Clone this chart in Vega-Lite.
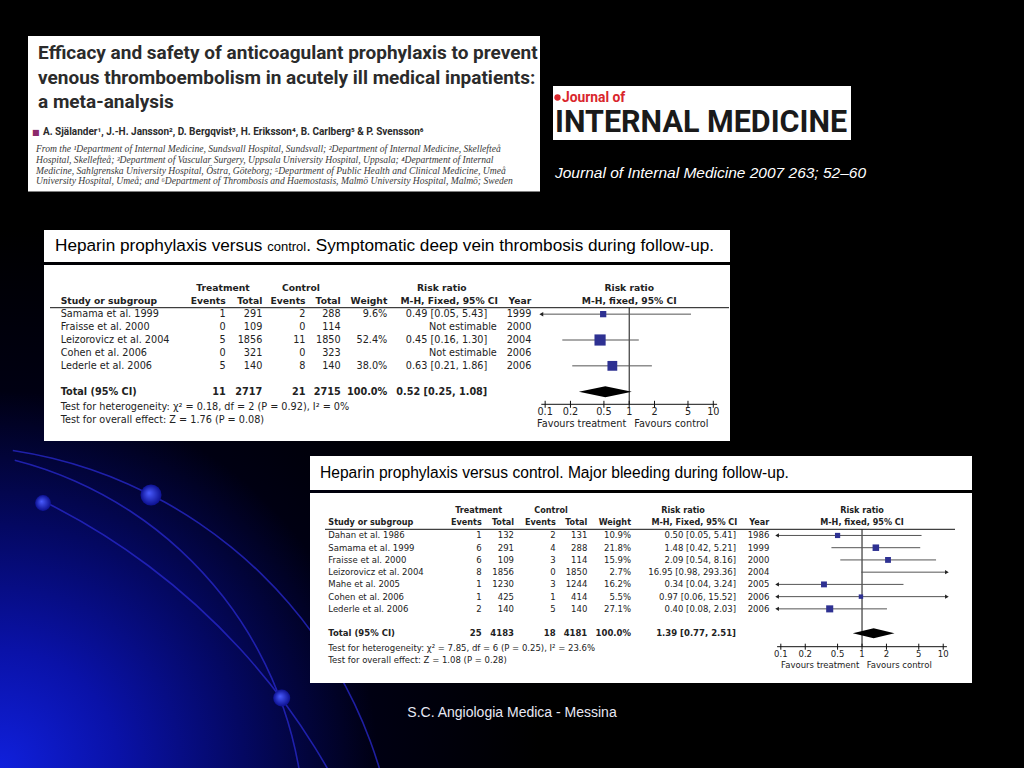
{
"$schema":"https://vega.github.io/schema/vega-lite/v6.json",
"width":1024,"height":768,"padding":0,"autosize":{"type":"none"},
"background":"#000000",
"config":{"view":{"stroke":null},"text":{"font":"DejaVu Sans","baseline":"middle","color":"#222222","fontSize":9.7},"rule":{"color":"#111111","strokeWidth":1}},
"datasets":{
 "one":[{}],
 "ticks":[{"v":0.1},{"v":0.2},{"v":0.5},{"v":1},{"v":2},{"v":5},{"v":10}],
 "t1":[
  {"study":"Samama et al. 1999","te":1,"tt":291,"ce":2,"ct":288,"w":0.096,"ci":"0.49 [0.05, 5.43]","rr":0.49,"lo":0.05,"hi":5.43,"year":1999},
  {"study":"Fraisse et al. 2000","te":0,"tt":109,"ce":0,"ct":114,"w":null,"ci":"Not estimable","rr":null,"lo":null,"hi":null,"year":2000},
  {"study":"Leizorovicz et al. 2004","te":5,"tt":1856,"ce":11,"ct":1850,"w":0.524,"ci":"0.45 [0.16, 1.30]","rr":0.45,"lo":0.16,"hi":1.3,"year":2004},
  {"study":"Cohen et al. 2006","te":0,"tt":321,"ce":0,"ct":323,"w":null,"ci":"Not estimable","rr":null,"lo":null,"hi":null,"year":2006},
  {"study":"Lederle et al. 2006","te":5,"tt":140,"ce":8,"ct":140,"w":0.38,"ci":"0.63 [0.21, 1.86]","rr":0.63,"lo":0.21,"hi":1.86,"year":2006},
  {"study":"Total (95% CI)","te":11,"tt":2717,"ce":21,"ct":2715,"w":1,"ci":"0.52 [0.25, 1.08]","rr":0.52,"lo":0.25,"hi":1.08,"year":null}
 ],
 "t2":[
  {"study":"Dahan et al. 1986","te":1,"tt":132,"ce":2,"ct":131,"w":0.109,"ci":"0.50 [0.05, 5.41]","rr":0.5,"lo":0.05,"hi":5.41,"year":1986},
  {"study":"Samama et al. 1999","te":6,"tt":291,"ce":4,"ct":288,"w":0.218,"ci":"1.48 [0.42, 5.21]","rr":1.48,"lo":0.42,"hi":5.21,"year":1999},
  {"study":"Fraisse et al. 2000","te":6,"tt":109,"ce":3,"ct":114,"w":0.159,"ci":"2.09 [0.54, 8.16]","rr":2.09,"lo":0.54,"hi":8.16,"year":2000},
  {"study":"Leizorovicz et al. 2004","te":8,"tt":1856,"ce":0,"ct":1850,"w":0.027,"ci":"16.95 [0.98, 293.36]","rr":16.95,"lo":0.98,"hi":293.36,"year":2004},
  {"study":"Mahe et al. 2005","te":1,"tt":1230,"ce":3,"ct":1244,"w":0.162,"ci":"0.34 [0.04, 3.24]","rr":0.34,"lo":0.04,"hi":3.24,"year":2005},
  {"study":"Cohen et al. 2006","te":1,"tt":425,"ce":1,"ct":414,"w":0.055,"ci":"0.97 [0.06, 15.52]","rr":0.97,"lo":0.06,"hi":15.52,"year":2006},
  {"study":"Lederle et al. 2006","te":2,"tt":140,"ce":5,"ct":140,"w":0.271,"ci":"0.40 [0.08, 2.03]","rr":0.4,"lo":0.08,"hi":2.03,"year":2006},
  {"study":"Total (95% CI)","te":25,"tt":4183,"ce":18,"ct":4181,"w":1,"ci":"1.39 [0.77, 2.51]","rr":1.39,"lo":0.77,"hi":2.51,"year":null}
 ]
},
"resolve":{"scale":{"x":"independent","y":"independent","size":"independent"}},
"layer":[
 {"data":{"name":"one"},"mark":{"type":"rect","fill":{"gradient":"radial","x1":0,"y1":1,"r1":0,"x2":0,"y2":1,"r2":1,"stops":[{"offset":0,"color":"#1020dc"},{"offset":0.22,"color":"#0a12a8"},{"offset":0.45,"color":"#040862"},{"offset":0.7,"color":"#000012"},{"offset":1,"color":"#000000"}]}},"encoding":{"x":{"value":0},"x2":{"value":540},"y":{"value":230},"y2":{"value":768}}},
 {"data":{"name":"one"},"mark":{"type":"arc","radius":454.4,"radius2":452.8,"theta":0.15,"theta2":1.5708,"fill":"#2a2ad0","opacity":0.75},"encoding":{"x":{"value":-55},"y":{"value":899}}},
 {"data":{"name":"one"},"mark":{"type":"arc","radius":385.7,"radius2":384.1,"theta":0.25,"theta2":1.5708,"fill":"#2a2ad0","opacity":0.75},"encoding":{"x":{"value":-80.5},"y":{"value":833.2}}},
 {"data":{"name":"one"},"mark":{"type":"arc","radius":668.6,"radius2":667,"theta":0.458,"theta2":1.2,"fill":"#2a2ad0","opacity":0.75},"encoding":{"x":{"value":-252.3},"y":{"value":1100}}},
 {"data":{"name":"one"},"mark":{"type":"point","shape":"circle","filled":true,"opacity":1,"size":440,"fill":{"gradient":"radial","x1":0.4,"y1":0.4,"r1":0,"x2":0.5,"y2":0.5,"r2":0.5,"stops":[{"offset":0,"color":"#4a5cff"},{"offset":1,"color":"#0c1090"}]}},"encoding":{"x":{"value":151},"y":{"value":495}}},
 {"data":{"name":"one"},"mark":{"type":"point","shape":"circle","filled":true,"opacity":1,"size":250,"fill":{"gradient":"radial","x1":0.4,"y1":0.4,"r1":0,"x2":0.5,"y2":0.5,"r2":0.5,"stops":[{"offset":0,"color":"#4a5cff"},{"offset":1,"color":"#0c1090"}]}},"encoding":{"x":{"value":43},"y":{"value":503}}},
 {"data":{"name":"one"},"mark":{"type":"point","shape":"circle","filled":true,"opacity":1,"size":290,"fill":{"gradient":"radial","x1":0.4,"y1":0.4,"r1":0,"x2":0.5,"y2":0.5,"r2":0.5,"stops":[{"offset":0,"color":"#4a5cff"},{"offset":1,"color":"#0c1090"}]}},"encoding":{"x":{"value":281.7},"y":{"value":698}}},
 {"data":{"name":"one"},"mark":{"type":"rect","fill":"#ffffff"},"encoding":{"x":{"value":28},"x2":{"value":540},"y":{"value":36},"y2":{"value":191.5}}},
 {"data":{"name":"one"},"mark":{"type":"rect","fill":"#ffffff"},"encoding":{"x":{"value":553},"x2":{"value":851},"y":{"value":86},"y2":{"value":140}}},
 {"data":{"name":"one"},"mark":{"type":"rect","fill":"#ffffff"},"encoding":{"x":{"value":44},"x2":{"value":730},"y":{"value":230},"y2":{"value":262}}},
 {"data":{"name":"one"},"mark":{"type":"rect","fill":"#ffffff"},"encoding":{"x":{"value":44},"x2":{"value":730},"y":{"value":265},"y2":{"value":441}}},
 {"data":{"name":"one"},"mark":{"type":"rect","fill":"#ffffff"},"encoding":{"x":{"value":310},"x2":{"value":972},"y":{"value":456},"y2":{"value":490}}},
 {"data":{"name":"one"},"mark":{"type":"rect","fill":"#ffffff"},"encoding":{"x":{"value":310},"x2":{"value":972},"y":{"value":493},"y2":{"value":683}}},
 {"data":{"name":"one"},"mark":{"type":"text","text":["Efficacy and safety of anticoagulant prophylaxis to prevent","venous thromboembolism in acutely ill medical inpatients:","a meta-analysis"],"font":"Roboto","fontWeight":"bold","fontSize":19,"lineHeight":24.5,"align":"left","baseline":"alphabetic","color":"#2b2b2b"},"encoding":{"x":{"value":38},"y":{"value":59}}},
 {"data":{"name":"one"},"mark":{"type":"text","text":"■","font":"DejaVu Sans","fontSize":8,"align":"left","baseline":"alphabetic","color":"#8c2a6b"},"encoding":{"x":{"value":32},"y":{"value":134.5}}},
 {"data":{"name":"one"},"mark":{"type":"text","text":"A. Själander¹, J.-H. Jansson², D. Bergqvist³, H. Eriksson⁴, B. Carlberg⁵ & P. Svensson⁶","font":"Roboto","fontWeight":"bold","fontSize":10,"align":"left","baseline":"alphabetic","color":"#2b2b2b"},"encoding":{"x":{"value":43},"y":{"value":135}}},
 {"data":{"name":"one"},"mark":{"type":"text","text":["From the ¹Department of Internal Medicine, Sundsvall Hospital, Sundsvall; ²Department of Internal Medicine, Skellefteå","Hospital, Skellefteå; ³Department of Vascular Surgery, Uppsala University Hospital, Uppsala; ⁴Department of Internal","Medicine, Sahlgrenska University Hospital, Östra, Göteborg; ⁵Department of Public Health and Clinical Medicine, Umeå","University Hospital, Umeå; and ⁶Department of Thrombosis and Haemostasis, Malmö University Hospital, Malmö; Sweden"],"font":"Liberation Serif","fontStyle":"italic","fontSize":9.6,"lineHeight":10.8,"align":"left","baseline":"alphabetic","color":"#3a3a3a"},"encoding":{"x":{"value":36},"y":{"value":152}}},
 {"data":{"name":"one"},"mark":{"type":"point","shape":"circle","filled":true,"opacity":1,"size":40,"color":"#d9262c"},"encoding":{"x":{"value":557.5},"y":{"value":97.5}}},
 {"data":{"name":"one"},"mark":{"type":"text","text":"Journal of","font":"Roboto","fontWeight":"bold","fontSize":13.8,"align":"left","baseline":"alphabetic","color":"#d9262c"},"encoding":{"x":{"value":562},"y":{"value":102}}},
 {"data":{"name":"one"},"mark":{"type":"text","text":"INTERNAL MEDICINE","font":"Roboto","fontWeight":"bold","fontSize":30.5,"align":"left","baseline":"alphabetic","color":"#1a1a1a"},"encoding":{"x":{"value":555},"y":{"value":132.3}}},
 {"data":{"name":"one"},"mark":{"type":"text","text":"Journal of Internal Medicine 2007 263; 52–60","font":"Liberation Sans","fontStyle":"italic","fontSize":15.5,"align":"left","color":"#ffffff"},"encoding":{"x":{"value":555},"y":{"value":173}}},
 {"data":{"name":"one"},"mark":{"type":"text","text":"Heparin prophylaxis versus","font":"Liberation Sans","fontSize":17.2,"align":"left","color":"#000000"},"encoding":{"x":{"value":55},"y":{"value":246}}},
 {"data":{"name":"one"},"mark":{"type":"text","text":"control","font":"Liberation Sans","fontSize":13,"align":"left","color":"#000000"},"encoding":{"x":{"value":267.2},"y":{"value":247}}},
 {"data":{"name":"one"},"mark":{"type":"text","text":". Symptomatic deep vein thrombosis during follow-up.","font":"Liberation Sans","fontSize":17.2,"align":"left","color":"#000000"},"encoding":{"x":{"value":306.2},"y":{"value":246}}},
 {"data":{"name":"one"},"mark":{"type":"text","text":"Heparin prophylaxis versus control. Major bleeding during follow-up.","font":"Liberation Sans","fontSize":15.6,"align":"left","color":"#000000"},"encoding":{"x":{"value":320},"y":{"value":473}}},
 {"data":{"name":"one"},"mark":{"type":"text","text":"S.C. Angiologia Medica - Messina","font":"Liberation Sans","fontSize":14,"align":"center","color":"#e8e8f4"},"encoding":{"x":{"value":512},"y":{"value":713}}},
 {
  "data":{"name":"t1"},
  "encoding":{"y":{"field":"study","type":"nominal","axis":null,"scale":{"type":"point","domain":["h1","h2","Samama et al. 1999","Fraisse et al. 2000","Leizorovicz et al. 2004","Cohen et al. 2006","Lederle et al. 2006","gap","Total (95% CI)","het","overall"],"range":[288.3,417.55],"padding":0}}},
  "layer":[
   {"data":{"name":"one"},"mark":{"type":"rule"},"encoding":{"x":{"value":50},"x2":{"value":729},"y":{"value":307.7}}},
   {"data":{"name":"one"},"mark":{"type":"rule"},"encoding":{"x":{"datum":1,"type":"quantitative","axis":null,"scale":{"type":"log","domain":[0.09,11.1],"range":[541.3,717.1],"clamp":true,"nice":false}},"y":{"value":307.7},"y2":{"value":404.3}}},
   {"data":{"name":"one"},"mark":{"type":"rule"},"encoding":{"x":{"datum":0.09,"type":"quantitative","axis":null,"scale":{"type":"log","domain":[0.09,11.1],"range":[541.3,717.1],"clamp":true,"nice":false}},"x2":{"datum":11.1},"y":{"value":404.3}}},
   {"data":{"name":"ticks"},"mark":{"type":"rule"},"encoding":{"x":{"field":"v","type":"quantitative","axis":null,"scale":{"type":"log","domain":[0.09,11.1],"range":[541.3,717.1],"clamp":true,"nice":false}},"y":{"value":400.8},"y2":{"value":407.8}}},
   {"data":{"name":"ticks"},"mark":{"type":"text","align":"center"},"encoding":{"x":{"field":"v","type":"quantitative","axis":null,"scale":{"type":"log","domain":[0.09,11.1],"range":[541.3,717.1],"clamp":true,"nice":false}},"y":{"value":412},"text":{"field":"v","type":"nominal"}}},
   {"data":{"name":"one"},"mark":{"type":"text","text":"Favours treatment","align":"right","dx":-3},"encoding":{"x":{"datum":1,"type":"quantitative","axis":null},"y":{"value":423.5}}},
   {"data":{"name":"one"},"mark":{"type":"text","text":"Favours control","align":"left","dx":5},"encoding":{"x":{"datum":1,"type":"quantitative","axis":null},"y":{"value":423.5}}},
   {"transform":[{"filter":"datum.lo != null && datum.study !== 'Total (95% CI)'"}],"mark":{"type":"rule","color":"#555555"},"encoding":{"x":{"field":"lo","type":"quantitative","axis":null},"x2":{"field":"hi"}}},
   {"transform":[{"filter":"datum.lo != null && datum.lo < 0.09"}],"mark":{"type":"point","shape":"triangle-left","filled":true,"opacity":1,"size":20,"color":"#222222"},"encoding":{"x":{"field":"lo","type":"quantitative","axis":null}}},
   {"transform":[{"filter":"datum.hi != null && datum.hi > 11.1"}],"mark":{"type":"point","shape":"triangle-right","filled":true,"opacity":1,"size":20,"color":"#222222"},"encoding":{"x":{"field":"hi","type":"quantitative","axis":null}}},
   {"transform":[{"filter":"datum.rr != null && datum.rr <= 11.1 && datum.study !== 'Total (95% CI)'"}],"mark":{"type":"point","shape":"square","filled":true,"opacity":1,"color":"#2e3192"},"encoding":{"x":{"field":"rr","type":"quantitative","axis":null},"size":{"field":"w","type":"quantitative","legend":null,"scale":{"domain":[0,0.6],"range":[20,140]}}}},
   {"transform":[{"filter":"datum.study === 'Total (95% CI)'"}],"mark":{"type":"point","shape":"M-1,0L0,-0.21L1,0L0,0.21Z","filled":true,"opacity":1,"size":2809,"color":"#000000"},"encoding":{"x":{"field":"rr","type":"quantitative","axis":null}}},
   {"mark":{"type":"text","align":"left","fontWeight":{"expr":"datum.study === 'Total (95% CI)' ? 'bold' : 'normal'"}},"encoding":{"x":{"value":60.7},"text":{"field":"study","type":"nominal"}}},
   {"mark":{"type":"text","align":"right","fontWeight":{"expr":"datum.study === 'Total (95% CI)' ? 'bold' : 'normal'"}},"encoding":{"x":{"value":225.7},"text":{"field":"te","type":"nominal"}}},
   {"mark":{"type":"text","align":"right","fontWeight":{"expr":"datum.study === 'Total (95% CI)' ? 'bold' : 'normal'"}},"encoding":{"x":{"value":262.3},"text":{"field":"tt","type":"nominal"}}},
   {"mark":{"type":"text","align":"right","fontWeight":{"expr":"datum.study === 'Total (95% CI)' ? 'bold' : 'normal'"}},"encoding":{"x":{"value":305.5},"text":{"field":"ce","type":"nominal"}}},
   {"mark":{"type":"text","align":"right","fontWeight":{"expr":"datum.study === 'Total (95% CI)' ? 'bold' : 'normal'"}},"encoding":{"x":{"value":340.7},"text":{"field":"ct","type":"nominal"}}},
   {"transform":[{"filter":"datum.w != null"}],"mark":{"type":"text","align":"right","fontWeight":{"expr":"datum.study === 'Total (95% CI)' ? 'bold' : 'normal'"}},"encoding":{"x":{"value":387.3},"text":{"field":"w","type":"quantitative","format":".1%"}}},
   {"mark":{"type":"text","align":"right","dx":{"expr":"datum.rr == null ? 9.5 : 0"},"fontWeight":{"expr":"datum.study === 'Total (95% CI)' ? 'bold' : 'normal'"}},"encoding":{"x":{"value":487.3},"text":{"field":"ci","type":"nominal"}}},
   {"transform":[{"filter":"datum.year != null"}],"mark":{"type":"text","align":"right"},"encoding":{"x":{"value":531.3},"text":{"field":"year","type":"nominal"}}},
   {"data":{"name":"one"},"mark":{"type":"text","text":"Treatment","align":"center","fontWeight":"bold","fontSize":9.2},"encoding":{"x":{"value":223},"y":{"datum":"h1","type":"nominal","axis":null}}},
   {"data":{"name":"one"},"mark":{"type":"text","text":"Control","align":"center","fontWeight":"bold","fontSize":9.2},"encoding":{"x":{"value":301},"y":{"datum":"h1","type":"nominal","axis":null}}},
   {"data":{"name":"one"},"mark":{"type":"text","text":"Risk ratio","align":"center","fontWeight":"bold","fontSize":9.2},"encoding":{"x":{"value":441.8},"y":{"datum":"h1","type":"nominal","axis":null}}},
   {"data":{"name":"one"},"mark":{"type":"text","text":"Risk ratio","align":"center","fontWeight":"bold","fontSize":9.2},"encoding":{"x":{"datum":1,"type":"quantitative","axis":null},"y":{"datum":"h1","type":"nominal","axis":null}}},
   {"data":{"name":"one"},"mark":{"type":"text","text":"Study or subgroup","align":"left","fontWeight":"bold","fontSize":9.2},"encoding":{"x":{"value":60.7},"y":{"datum":"h2","type":"nominal","axis":null}}},
   {"data":{"name":"one"},"mark":{"type":"text","text":"Events","align":"right","fontWeight":"bold","fontSize":9.2},"encoding":{"x":{"value":225.7},"y":{"datum":"h2","type":"nominal","axis":null}}},
   {"data":{"name":"one"},"mark":{"type":"text","text":"Total","align":"right","fontWeight":"bold","fontSize":9.2},"encoding":{"x":{"value":262.3},"y":{"datum":"h2","type":"nominal","axis":null}}},
   {"data":{"name":"one"},"mark":{"type":"text","text":"Events","align":"right","fontWeight":"bold","fontSize":9.2},"encoding":{"x":{"value":305.5},"y":{"datum":"h2","type":"nominal","axis":null}}},
   {"data":{"name":"one"},"mark":{"type":"text","text":"Total","align":"right","fontWeight":"bold","fontSize":9.2},"encoding":{"x":{"value":340.7},"y":{"datum":"h2","type":"nominal","axis":null}}},
   {"data":{"name":"one"},"mark":{"type":"text","text":"Weight","align":"right","fontWeight":"bold","fontSize":9.2},"encoding":{"x":{"value":387.3},"y":{"datum":"h2","type":"nominal","axis":null}}},
   {"data":{"name":"one"},"mark":{"type":"text","text":"M-H, Fixed, 95% CI","align":"right","fontWeight":"bold","fontSize":9.2},"encoding":{"x":{"value":498},"y":{"datum":"h2","type":"nominal","axis":null}}},
   {"data":{"name":"one"},"mark":{"type":"text","text":"Year","align":"right","fontWeight":"bold","fontSize":9.2},"encoding":{"x":{"value":531.3},"y":{"datum":"h2","type":"nominal","axis":null}}},
   {"data":{"name":"one"},"mark":{"type":"text","text":"M-H, fixed, 95% CI","align":"center","fontWeight":"bold","fontSize":9.2},"encoding":{"x":{"datum":1,"type":"quantitative","axis":null},"y":{"datum":"h2","type":"nominal","axis":null}}},
   {"data":{"name":"one"},"mark":{"type":"text","text":"Test for heterogeneity: χ² = 0.18, df = 2 (P = 0.92), I² = 0%","align":"left","dy":2},"encoding":{"x":{"value":60.7},"y":{"datum":"het","type":"nominal","axis":null}}},
   {"data":{"name":"one"},"mark":{"type":"text","text":"Test for overall effect: Z = 1.76 (P = 0.08)","align":"left","dy":2},"encoding":{"x":{"value":60.7},"y":{"datum":"overall","type":"nominal","axis":null}}}
  ]
 },
 {
  "data":{"name":"t2"},
  "encoding":{"y":{"field":"study","type":"nominal","axis":null,"scale":{"type":"point","domain":["h1","h2","Dahan et al. 1986","Samama et al. 1999","Fraisse et al. 2000","Leizorovicz et al. 2004","Mahe et al. 2005","Cohen et al. 2006","Lederle et al. 2006","gap","Total (95% CI)","het","overall"],"range":[511,657.8],"padding":0}}},
  "layer":[
   {"data":{"name":"one"},"mark":{"type":"rule"},"encoding":{"x":{"value":325},"x2":{"value":955},"y":{"value":529.3}}},
   {"data":{"name":"one"},"mark":{"type":"rule"},"encoding":{"x":{"datum":1,"type":"quantitative","axis":null,"scale":{"type":"log","domain":[0.09,11.1],"range":[777.1,946.9],"clamp":true,"nice":false}},"y":{"value":529.3},"y2":{"value":646.7}}},
   {"data":{"name":"one"},"mark":{"type":"rule"},"encoding":{"x":{"datum":0.09,"type":"quantitative","axis":null,"scale":{"type":"log","domain":[0.09,11.1],"range":[777.1,946.9],"clamp":true,"nice":false}},"x2":{"datum":11.1},"y":{"value":646.7}}},
   {"data":{"name":"ticks"},"mark":{"type":"rule"},"encoding":{"x":{"field":"v","type":"quantitative","axis":null,"scale":{"type":"log","domain":[0.09,11.1],"range":[777.1,946.9],"clamp":true,"nice":false}},"y":{"value":643.7},"y2":{"value":649.7}}},
   {"data":{"name":"ticks"},"mark":{"type":"text","align":"center","fontSize":8.5},"encoding":{"x":{"field":"v","type":"quantitative","axis":null,"scale":{"type":"log","domain":[0.09,11.1],"range":[777.1,946.9],"clamp":true,"nice":false}},"y":{"value":654},"text":{"field":"v","type":"nominal"}}},
   {"data":{"name":"one"},"mark":{"type":"text","text":"Favours treatment","align":"right","dx":-2.7,"fontSize":8.5},"encoding":{"x":{"datum":1,"type":"quantitative","axis":null},"y":{"value":664.8}}},
   {"data":{"name":"one"},"mark":{"type":"text","text":"Favours control","align":"left","dx":4.7,"fontSize":8.5},"encoding":{"x":{"datum":1,"type":"quantitative","axis":null},"y":{"value":664.8}}},
   {"transform":[{"filter":"datum.lo != null && datum.study !== 'Total (95% CI)'"}],"mark":{"type":"rule","color":"#555555"},"encoding":{"x":{"field":"lo","type":"quantitative","axis":null},"x2":{"field":"hi"}}},
   {"transform":[{"filter":"datum.lo != null && datum.lo < 0.09"}],"mark":{"type":"point","shape":"triangle-left","filled":true,"opacity":1,"size":18,"color":"#222222"},"encoding":{"x":{"field":"lo","type":"quantitative","axis":null}}},
   {"transform":[{"filter":"datum.hi != null && datum.hi > 11.1"}],"mark":{"type":"point","shape":"triangle-right","filled":true,"opacity":1,"size":18,"color":"#222222"},"encoding":{"x":{"field":"hi","type":"quantitative","axis":null}}},
   {"transform":[{"filter":"datum.rr != null && datum.rr <= 11.1 && datum.study !== 'Total (95% CI)'"}],"mark":{"type":"point","shape":"square","filled":true,"opacity":1,"color":"#2e3192"},"encoding":{"x":{"field":"rr","type":"quantitative","axis":null},"size":{"field":"w","type":"quantitative","legend":null,"scale":{"domain":[0,0.3],"range":[12,54]}}}},
   {"transform":[{"filter":"datum.study === 'Total (95% CI)'"}],"mark":{"type":"point","shape":"M-1,0L0,-0.24L1,0L0,0.24Z","filled":true,"opacity":1,"size":1739,"color":"#000000"},"encoding":{"x":{"field":"rr","type":"quantitative","axis":null}}},
   {"mark":{"type":"text","align":"left","fontSize":8.5,"fontWeight":{"expr":"datum.study === 'Total (95% CI)' ? 'bold' : 'normal'"}},"encoding":{"x":{"value":328.3},"text":{"field":"study","type":"nominal"}}},
   {"mark":{"type":"text","align":"right","fontSize":8.5,"fontWeight":{"expr":"datum.study === 'Total (95% CI)' ? 'bold' : 'normal'"}},"encoding":{"x":{"value":481.7},"text":{"field":"te","type":"nominal"}}},
   {"mark":{"type":"text","align":"right","fontSize":8.5,"fontWeight":{"expr":"datum.study === 'Total (95% CI)' ? 'bold' : 'normal'"}},"encoding":{"x":{"value":514},"text":{"field":"tt","type":"nominal"}}},
   {"mark":{"type":"text","align":"right","fontSize":8.5,"fontWeight":{"expr":"datum.study === 'Total (95% CI)' ? 'bold' : 'normal'"}},"encoding":{"x":{"value":555.7},"text":{"field":"ce","type":"nominal"}}},
   {"mark":{"type":"text","align":"right","fontSize":8.5,"fontWeight":{"expr":"datum.study === 'Total (95% CI)' ? 'bold' : 'normal'"}},"encoding":{"x":{"value":587.3},"text":{"field":"ct","type":"nominal"}}},
   {"transform":[{"filter":"datum.w != null"}],"mark":{"type":"text","align":"right","fontSize":8.5,"fontWeight":{"expr":"datum.study === 'Total (95% CI)' ? 'bold' : 'normal'"}},"encoding":{"x":{"value":631},"text":{"field":"w","type":"quantitative","format":".1%"}}},
   {"mark":{"type":"text","align":"right","fontSize":8.5,"fontWeight":{"expr":"datum.study === 'Total (95% CI)' ? 'bold' : 'normal'"}},"encoding":{"x":{"value":736},"text":{"field":"ci","type":"nominal"}}},
   {"transform":[{"filter":"datum.year != null"}],"mark":{"type":"text","align":"right","fontSize":8.5},"encoding":{"x":{"value":769.3},"text":{"field":"year","type":"nominal"}}},
   {"data":{"name":"one"},"mark":{"type":"text","text":"Treatment","align":"center","fontWeight":"bold","fontSize":8.1},"encoding":{"x":{"value":478.7},"y":{"datum":"h1","type":"nominal","axis":null}}},
   {"data":{"name":"one"},"mark":{"type":"text","text":"Control","align":"center","fontWeight":"bold","fontSize":8.1},"encoding":{"x":{"value":551},"y":{"datum":"h1","type":"nominal","axis":null}}},
   {"data":{"name":"one"},"mark":{"type":"text","text":"Risk ratio","align":"center","fontWeight":"bold","fontSize":8.1},"encoding":{"x":{"value":683},"y":{"datum":"h1","type":"nominal","axis":null}}},
   {"data":{"name":"one"},"mark":{"type":"text","text":"Risk ratio","align":"center","fontWeight":"bold","fontSize":8.1},"encoding":{"x":{"datum":1,"type":"quantitative","axis":null},"y":{"datum":"h1","type":"nominal","axis":null}}},
   {"data":{"name":"one"},"mark":{"type":"text","text":"Study or subgroup","align":"left","fontWeight":"bold","fontSize":8.1},"encoding":{"x":{"value":328.3},"y":{"datum":"h2","type":"nominal","axis":null}}},
   {"data":{"name":"one"},"mark":{"type":"text","text":"Events","align":"right","fontWeight":"bold","fontSize":8.1},"encoding":{"x":{"value":481.7},"y":{"datum":"h2","type":"nominal","axis":null}}},
   {"data":{"name":"one"},"mark":{"type":"text","text":"Total","align":"right","fontWeight":"bold","fontSize":8.1},"encoding":{"x":{"value":514},"y":{"datum":"h2","type":"nominal","axis":null}}},
   {"data":{"name":"one"},"mark":{"type":"text","text":"Events","align":"right","fontWeight":"bold","fontSize":8.1},"encoding":{"x":{"value":555.7},"y":{"datum":"h2","type":"nominal","axis":null}}},
   {"data":{"name":"one"},"mark":{"type":"text","text":"Total","align":"right","fontWeight":"bold","fontSize":8.1},"encoding":{"x":{"value":587.3},"y":{"datum":"h2","type":"nominal","axis":null}}},
   {"data":{"name":"one"},"mark":{"type":"text","text":"Weight","align":"right","fontWeight":"bold","fontSize":8.1},"encoding":{"x":{"value":631},"y":{"datum":"h2","type":"nominal","axis":null}}},
   {"data":{"name":"one"},"mark":{"type":"text","text":"M-H, Fixed, 95% CI","align":"right","fontWeight":"bold","fontSize":8.1},"encoding":{"x":{"value":737.3},"y":{"datum":"h2","type":"nominal","axis":null}}},
   {"data":{"name":"one"},"mark":{"type":"text","text":"Year","align":"right","fontWeight":"bold","fontSize":8.1},"encoding":{"x":{"value":769.3},"y":{"datum":"h2","type":"nominal","axis":null}}},
   {"data":{"name":"one"},"mark":{"type":"text","text":"M-H, fixed, 95% CI","align":"center","fontWeight":"bold","fontSize":8.1},"encoding":{"x":{"datum":1,"type":"quantitative","axis":null},"y":{"datum":"h2","type":"nominal","axis":null}}},
   {"data":{"name":"one"},"mark":{"type":"text","text":"Test for heterogeneity: χ² = 7.85, df = 6 (P = 0.25), I² = 23.6%","align":"left","dy":2.5,"fontSize":8.5},"encoding":{"x":{"value":328.3},"y":{"datum":"het","type":"nominal","axis":null}}},
   {"data":{"name":"one"},"mark":{"type":"text","text":"Test for overall effect: Z = 1.08 (P = 0.28)","align":"left","dy":2.5,"fontSize":8.5},"encoding":{"x":{"value":328.3},"y":{"datum":"overall","type":"nominal","axis":null}}}
  ]
 }
]
}
